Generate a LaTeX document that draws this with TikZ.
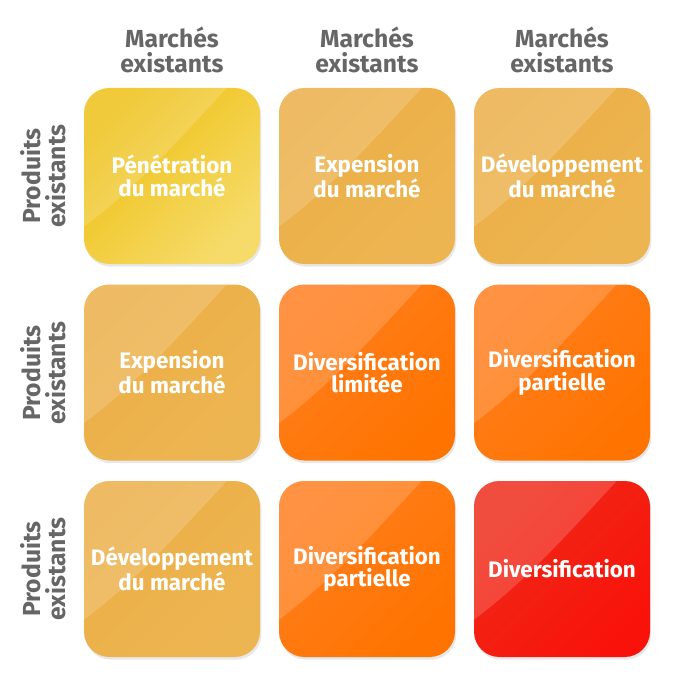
\documentclass[tikz,border=0pt]{standalone}
\usepackage{fontspec}
\setmainfont{Fira Sans}
\usepackage{xcolor}
\usepackage{tikz}
\usetikzlibrary{positioning,shadows}

\definecolor{hdrgray}{HTML}{666666}
\definecolor{yelA}{HTML}{EEC014}
\definecolor{yelB}{HTML}{F6DB6A}
\definecolor{ambA}{HTML}{EBAE45}
\definecolor{ambB}{HTML}{EDB552}
\definecolor{orgA}{HTML}{FF7E1E}
\definecolor{orgB}{HTML}{FF7400}
\definecolor{redA}{HTML}{EE2A18}
\definecolor{redB}{HTML}{F9120A}

\begin{document}
\begin{tikzpicture}[
						x=0.75pt, y=-0.75pt,
						cell/.style={
							rounded corners=19pt,     % coins arrondis
							minimum width=132pt,
							minimum height=132pt,
							inner sep=0pt,
							align=center,
							text=white,
							font=\bfseries\fontsize{16.8}{17}\selectfont,
							drop shadow={opacity=0.18, shadow xshift=1pt, shadow yshift=-2pt},
							path picture={            % reflet brillant
								\fill[white, opacity=0.17, sharp corners]
								([yshift=28pt]path picture bounding box.south west)
								.. controls ([xshift=40pt, yshift=58pt]path picture bounding box.south west)
								and ([xshift=-62pt, yshift=-40pt]path picture bounding box.north east)
								.. ([xshift=-25pt]path picture bounding box.north east)
								-- (path picture bounding box.north west) -- cycle;
							}
						},
						yel/.style={left color=yelA, right color=yelB, shading angle=45},
						amb/.style={left color=ambA, right color=ambB, shading angle=45},
						org/.style={left color=orgA, right color=orgB, shading angle=45},
						rouge/.style={left color=redA, right color=redB, shading angle=45},
						hdr/.style={
							align=center,
							text=hdrgray,
							font=\bfseries\fontsize{18.5}{18.5}\selectfont
						}
						]
						\useasboundingbox (0,0) rectangle (679,691);
						
						% --- En-têtes des colonnes ---
						\foreach \c/\xx in {1/172, 2/367, 3/562} {
							\node[hdr] (hdr\c) at (\xx, 50) {Marchés\\existants};
						}
						
						% --- En-têtes des lignes ---
						\foreach \r/\yy in {1/176, 2/373, 3/569} {
							\node[hdr, rotate=90] (side\r) at (43, \yy) {Produits\\existants};
						}
						
						% --- Cases de la matrice ---
						\foreach \r/\c/\kind/\txt in {
							1/1/yel/{Pénétration\\du marché},
							1/2/amb/{Expension\\du marché},
							1/3/amb/{Développement\\du marché},
							2/1/amb/{Expension\\du marché},
							2/2/org/{Diversification\\limitée},
							2/3/org/{Diversification\\partielle},
							3/1/amb/{Développement\\du marché},
							3/2/org/{Diversification\\partielle},
							3/3/rouge/{Diversification}} {
							\node[cell, \kind] (c\r\c) at ({172+195*(\c-1)}, {176+196.5*(\r-1)}) {\txt};
						}
						
					\end{tikzpicture}
\end{document}
